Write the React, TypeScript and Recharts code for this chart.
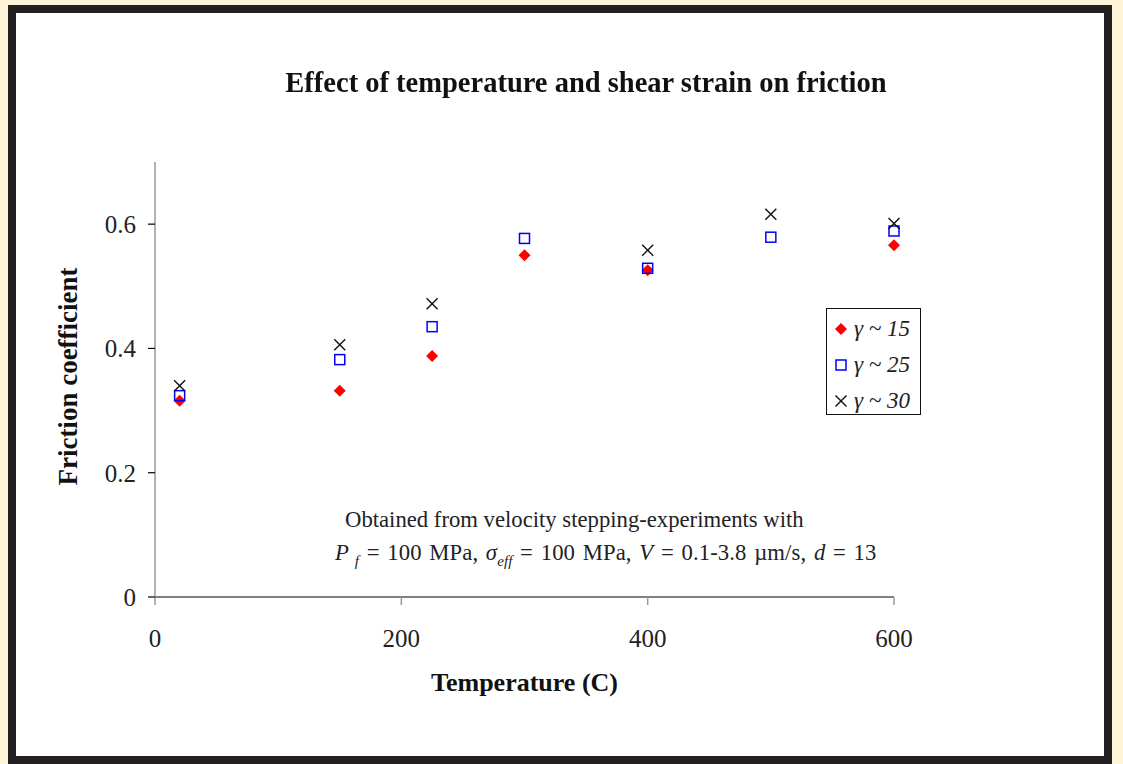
import { ScatterChart, Scatter, XAxis, YAxis, Label } from 'recharts';

const temperatures = [20, 150, 225, 300, 400, 500, 600];
const gamma15 = [0.316, 0.332, 0.388, 0.55, 0.526, null, 0.566];
const gamma25 = [0.324, 0.382, 0.435, 0.577, 0.529, 0.579, 0.589];
const gamma30 = [0.34, 0.406, 0.472, null, 0.558, 0.616, 0.601];
const xTicks = [0, 200, 400, 600];
const yTicks = [0, 0.2, 0.4, 0.6];
const seriesNames = ['γ ~ 15', 'γ ~ 25', 'γ ~ 30'];

const SERIF = '"Liberation Serif", "Times New Roman", serif';

const toPoints = (vals: (number | null)[]) =>
  temperatures
    .map((t, i) => ({ t, f: vals[i] }))
    .filter((p) => p.f !== null);

const Diamond = (props: any) => {
  const { cx, cy } = props;
  const r = 6;
  return <polygon points={`${cx},${cy - r} ${cx + r},${cy} ${cx},${cy + r} ${cx - r},${cy}`} fill="#ff0000" />;
};

const Square = (props: any) => {
  const { cx, cy } = props;
  return <rect x={cx - 5} y={cy - 5} width={10} height={10} fill="none" stroke="#0000ff" strokeWidth={1.5} />;
};

const Cross = (props: any) => {
  const { cx, cy } = props;
  const r = 5.5;
  return (
    <g stroke="#111" strokeWidth={1.4}>
      <line x1={cx - r} y1={cy - r} x2={cx + r} y2={cy + r} />
      <line x1={cx - r} y1={cy + r} x2={cx + r} y2={cy - r} />
    </g>
  );
};

function LegendIcon({ kind }: { kind: number }) {
  return (
    <svg width={14} height={14} style={{ display: 'block' }}>
      {kind === 0 && <Diamond cx={7} cy={7} />}
      {kind === 1 && <Square cx={7} cy={7} />}
      {kind === 2 && <Cross cx={7} cy={7} />}
    </svg>
  );
}

export default function App() {
  return (
    <div style={{ position: 'fixed', left: 0, top: 0, width: 1123, height: 764, background: '#fdf3d6', fontFamily: SERIF }}>
      {/* frame */}
      <div style={{ position: 'absolute', left: 8, top: 5, width: 1104, height: 759, background: '#231f20' }} />
      <div style={{ position: 'absolute', left: 16, top: 13, width: 1088, height: 743, background: '#ffffff' }} />

      <div style={{ position: 'absolute', left: 0, top: 0 }}>
        <ScatterChart width={1123} height={764} margin={{ top: 162, right: 229, bottom: 117, left: 95 }}>
          <XAxis
            type="number"
            dataKey="t"
            domain={[0, 600]}
            ticks={xTicks}
            height={50}
            tickSize={8}
            tickMargin={24}
            axisLine={{ stroke: '#000', strokeWidth: 1.2 }}
            tickLine={{ stroke: '#999', strokeWidth: 1.5 }}
            tick={{ fill: '#222', fontSize: 25, fontFamily: SERIF }}
          >
            <Label value="Temperature (C)" position="center" dy={60} style={{ fontSize: 26, fontWeight: 'bold', fill: '#111', fontFamily: SERIF }} />
          </XAxis>
          <YAxis
            type="number"
            dataKey="f"
            domain={[0, 0.7]}
            ticks={yTicks}
            width={60}
            tickSize={7}
            tickMargin={12}
            tickFormatter={(v: number) => (v === 0 ? '0' : v.toFixed(1))}
            axisLine={{ stroke: '#999', strokeWidth: 1.5 }}
            tickLine={{ stroke: '#000', strokeWidth: 1.2 }}
            tick={{ fill: '#222', fontSize: 25, fontFamily: SERIF }}
          >
            <Label value="Friction coefficient" angle={-90} position="center" dx={-58} dy={-3} style={{ fontSize: 27, fontWeight: 'bold', fill: '#111', fontFamily: SERIF }} />
          </YAxis>
          <Scatter name={seriesNames[0]} data={toPoints(gamma15)} shape={Diamond} isAnimationActive={false} />
          <Scatter name={seriesNames[1]} data={toPoints(gamma25)} shape={Square} isAnimationActive={false} />
          <Scatter name={seriesNames[2]} data={toPoints(gamma30)} shape={Cross} isAnimationActive={false} />
        </ScatterChart>
      </div>

      {/* title */}
      <div style={{ position: 'absolute', left: 0, width: 1172, top: 67, textAlign: 'center', fontSize: 28.5, fontWeight: 'bold', color: '#111' }}>
        Effect of temperature and shear strain on friction
      </div>

      {/* annotation */}
      <div style={{ position: 'absolute', left: 345, top: 503, fontSize: 22.7, lineHeight: '33px', color: '#222', whiteSpace: 'nowrap' }}>
        <div>Obtained from velocity stepping-experiments with</div>
        <div style={{ marginLeft: -10, wordSpacing: 1.9, letterSpacing: 0.1 }}>
          <i>P</i>
          <sub style={{ fontSize: 15 }}> <i>f</i></sub> = 100 MPa, <i>σ</i>
          <sub style={{ fontSize: 15 }}><i>eff</i></sub> = 100 MPa, <i>V</i> = 0.1-3.8 µm/s, <i>d</i> = 13
        </div>
      </div>

      {/* legend */}
      <div style={{ position: 'absolute', left: 826, top: 308, width: 95, height: 107, border: '1px solid #111', background: '#fff', padding: '2px 0 0 7px', boxSizing: 'border-box' }}>
        {seriesNames.map((n, i) => (
          <div key={n} style={{ display: 'flex', alignItems: 'center', height: 36 }}>
            <LegendIcon kind={i} />
            <span style={{ fontStyle: 'italic', fontSize: 23, marginLeft: 6, color: '#222' }}>{n}</span>
          </div>
        ))}
      </div>
    </div>
  );
}
